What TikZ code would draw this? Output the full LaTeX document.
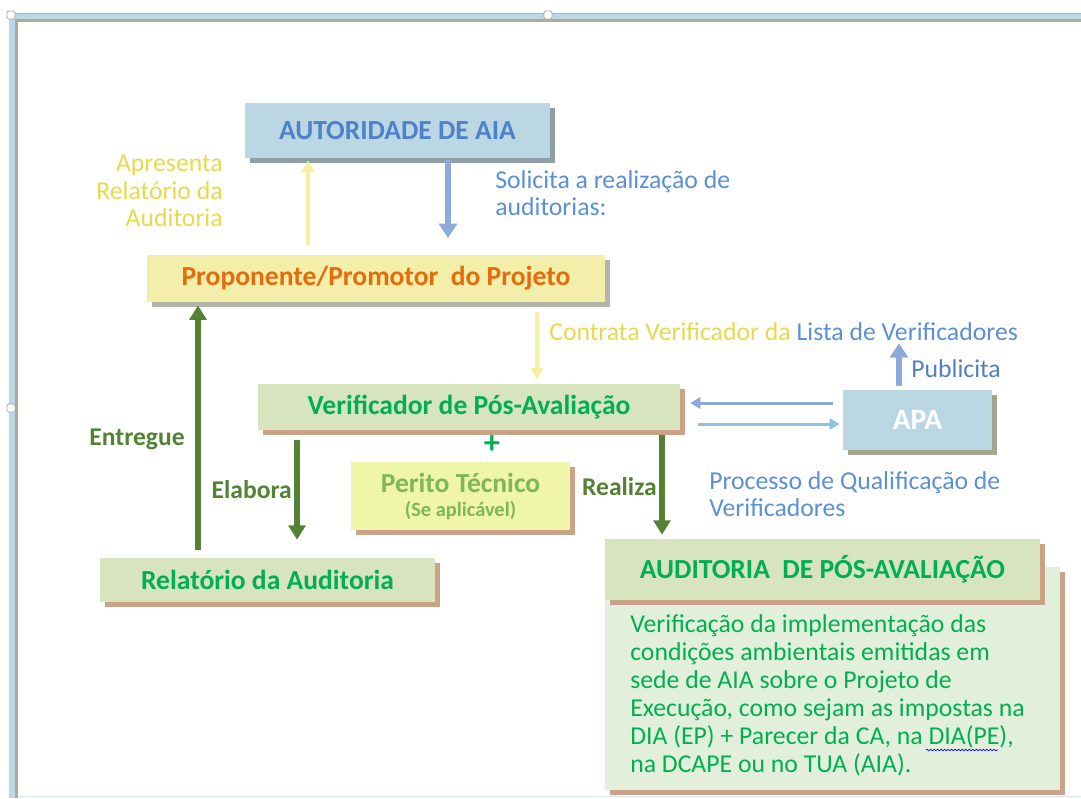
\documentclass[tikz,border=0pt]{standalone}
\usepackage{fontspec}
\setmainfont{Carlito}
\usetikzlibrary{arrows.meta}
\usetikzlibrary{shadows}
\usetikzlibrary{decorations.pathmorphing}

\definecolor{aiaFill}{HTML}{BBD7E4}
\definecolor{aiaText}{HTML}{4F81C8}
\definecolor{blueTxt}{HTML}{5B8FD6}
\definecolor{yelTxt}{HTML}{EAD84C}
\definecolor{yelArrow}{HTML}{F5F0A6}
\definecolor{propFill}{HTML}{F3EEAA}
\definecolor{orangeTxt}{HTML}{E46C0A}
\definecolor{greenFill}{HTML}{D7E4BD}
\definecolor{greenTxt}{HTML}{00B050}
\definecolor{periFill}{HTML}{EFF5A9}
\definecolor{periTxt}{HTML}{7DB65B}
\definecolor{darkGreen}{HTML}{548235}
\definecolor{bodyFill}{HTML}{E2EFDA}
\definecolor{arrBlue}{HTML}{8EAADB}
\definecolor{arrCyan}{HTML}{8CC4D8}
\definecolor{shGrey}{HTML}{8E9EA6}
\definecolor{shOlive}{HTML}{A2A78C}
\definecolor{shBrown}{HTML}{C9A287}
\definecolor{shProp}{HTML}{B4B4A8}
\definecolor{frameBlue}{HTML}{BCD8E6}
\definecolor{frameOlive}{HTML}{A8B092}

\begin{document}
\begin{tikzpicture}[x=0.025cm, y=-0.025cm,
  box/.style={inner sep=0pt, font=\bfseries\fontsize{19.6}{22}\selectfont,
    drop shadow={shadow xshift=.12cm, shadow yshift=-.12cm, opacity=1, fill=#1}},
  wd/.style={minimum width=#1*0.025cm},
  ht/.style={minimum height=#1*0.025cm},
  lbl/.style={inner sep=0pt, font=\fontsize{18.3}{19.6}\selectfont},
  blbl/.style={lbl, font=\bfseries\fontsize{18.2}{20}\selectfont, text=darkGreen},
  yarr/.style={yelArrow, line width=.1cm, -{Triangle[width=.32cm, length=.3cm]}},
  barr/.style={arrBlue, line width=.15cm, -{Triangle[width=.45cm, length=.36cm]}},
  thin arr/.style={line width=.075cm, -{Triangle[width=.28cm, length=.25cm]}},
  garr/.style={darkGreen, line width=.13cm, -{Triangle[width=.42cm, length=.36cm]}},
  handle/.style={draw=gray!70, fill=white, line width=.6pt, rounded corners=1pt}]
\useasboundingbox (0,0) rectangle (1081,798);

% moldura
\fill[frameBlue] (9,13) rectangle (1081,19);
\fill[frameBlue] (9,13) rectangle (15,798);
\fill[frameOlive] (15,19) rectangle (1081,22);
\fill[frameOlive] (15,19) rectangle (18,798);
\draw[gray!60, line width=.4pt] (9,13.5) -- (1081,13.5);
\draw[frameBlue!60, line width=.6pt] (18,796) -- (1081,796);
\foreach \p in {(11,15),(548,15),(11,408)}
  \draw[handle] \p +(-4,-4) rectangle +(4,4);

% caixas
\node[box=shGrey, fill=aiaFill, text=aiaText, wd=305, ht=55] (aia) at (397.5,130.5) {AUTORIDADE DE AIA};
\node[box=shProp, fill=propFill, text=orangeTxt, wd=458, ht=47] (prop) at (376,278.5) {Proponente/Promotor\ \ do Projeto};
\node[box=shBrown, fill=greenFill, text=greenTxt, wd=422, ht=46] (verif) at (469,407) {Verificador de Pós-Avaliação};
\node[box=shBrown, fill=periFill, text=periTxt, wd=219, ht=68, align=center] (perito) at (460.5,496)
  {Perito Técnico\\[-5pt]{\fontsize{14.5}{16}\selectfont(Se aplicável)}};
\node[box=shOlive, fill=aiaFill, text=white, wd=149, ht=60, font=\bfseries\fontsize{21}{22}\selectfont] (apa) at (917.5,420) {APA};
\node[box=shBrown, fill=greenFill, text=greenTxt, wd=335, ht=44] (rel) at (267.5,580) {Relatório da Auditoria};
\node[box=shBrown, fill=bodyFill, wd=455, ht=223] (audbody) at (832.5,678.5) {};
\node[box=shBrown, fill=greenFill, text=greenTxt, wd=435, ht=61] (audhead) at (822.5,569.5) {AUDITORIA\ \ DE PÓS-AVALIAÇÃO};
\node[lbl, text=greenTxt, anchor=north west, align=left, font=\fontsize{18.3}{19.9}\selectfont] (audtxt) at (630,614)
  {Verificação da implementação das\\condições ambientais emitidas em\\sede de AIA sobre o Projeto de\\Execução, como sejam as impostas na\\DIA (EP) + Parecer da CA, na DIA(PE),\\na DCAPE ou no TUA (AIA).};
\draw[blue, line width=.5pt, decorate, decoration={snake, amplitude=.5pt, segment length=2.5pt}] (926,750) -- (998,750);

% textos
\node[lbl, text=yelTxt, anchor=east, align=right] (apres) at (223,191) {Apresenta\\Relatório da\\Auditoria};
\node[lbl, text=blueTxt, anchor=west, align=left] (solic) at (495,193) {Solicita a realização de\\auditorias:};
\node[lbl, anchor=west] (contrata) at (549,332) {\color{yelTxt}Contrata Verificador da \color{blueTxt}Lista de Verificadores};
\node[lbl, text=blueTxt!90!black, anchor=west] (publ) at (911,369) {Publicita};
\node[lbl, text=blueTxt, anchor=west, align=left] (proc) at (709,494) {Processo de Qualificação de\\Verificadores};
\node[blbl, anchor=east] (entr) at (185,439) {Entregue};
\node[blbl, anchor=east] (elab) at (292,490) {Elabora};
\node[blbl, anchor=east] (real) at (657,487) {Realiza};
\node[text=greenTxt, font=\bfseries\fontsize{23}{23}\selectfont, inner sep=0pt] (plus) at (492,445) {+};

% setas
\draw[yarr, shorten <=.25cm, shorten >=.05cm] (prop.north -| 308,0) -- (aia.south -| 308,0);
\draw[barr, shorten <=.05cm, shorten >=.42cm] (aia.south -| 448,0) -- (prop.north -| 448,0);
\draw[yarr, shorten <=.25cm, shorten >=.1cm] (prop.south -| 537,0) -- (verif.north -| 537,0);
\draw[barr, shorten <=.1cm, shorten >=.05cm] (apa.north -| 899,0) -- (contrata.south -| 899,0);
\draw[thin arr, arrBlue, shorten <=.25cm, shorten >=.25cm] (apa.west |- 0,403) -- (verif.east |- 0,403);
\draw[thin arr, arrCyan, shorten <=.45cm, shorten >=.08cm] (verif.east |- 0,424) -- (apa.west |- 0,424);
\draw[garr, shorten <=.25cm, shorten >=.45cm] (verif.south -| 297,0) -- (rel.north -| 297,0);
\draw[garr, shorten <=.12cm, shorten >=.1cm] (verif.south -| 662,0) -- (audhead.north -| 662,0);
\draw[garr, shorten <=.2cm, shorten >=.08cm] (rel.north -| 198,0) -- (prop.south -| 198,0);
\end{tikzpicture}
\end{document}
